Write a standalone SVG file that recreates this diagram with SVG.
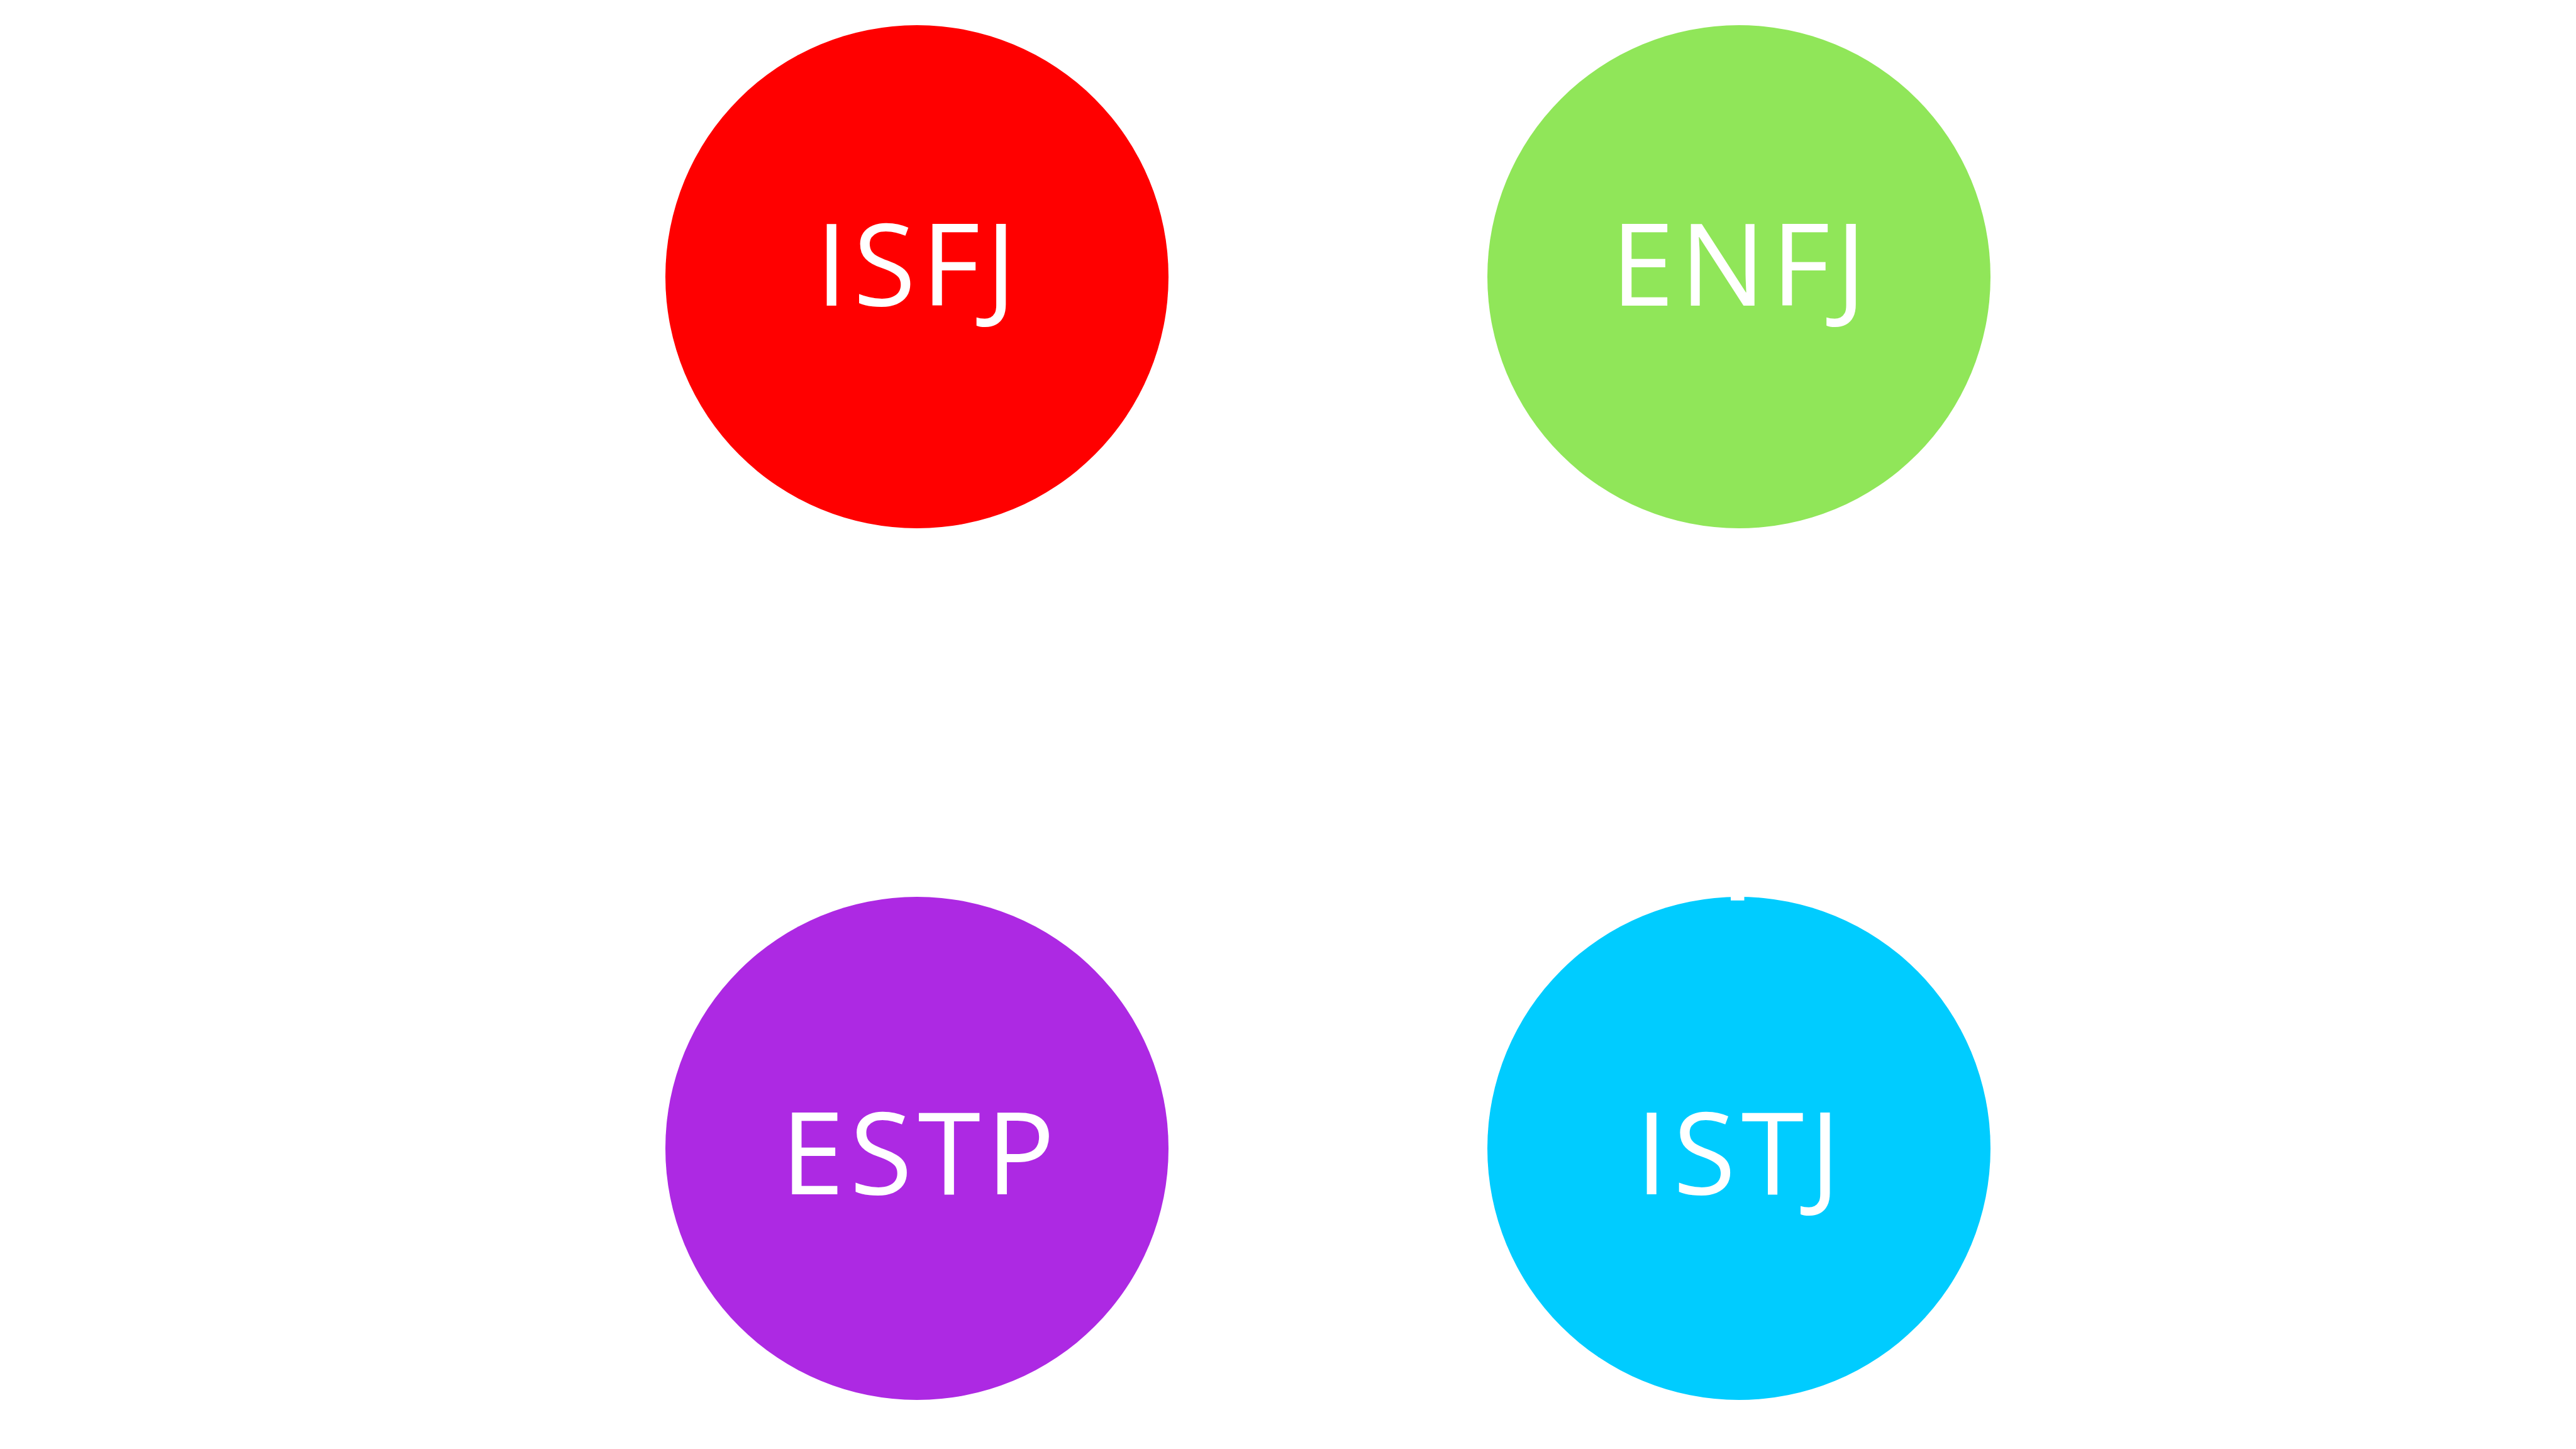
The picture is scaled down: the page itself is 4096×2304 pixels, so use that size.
<svg xmlns="http://www.w3.org/2000/svg" width="4096" height="2304" viewBox="0 0 4096 2304">
<style>
.lbl{font-family:"Open Sans","Liberation Sans",sans-serif;font-size:181px;fill:#ffffff;text-anchor:middle;letter-spacing:9px}
</style>
<rect x="0" y="0" width="4096" height="2304" fill="#ffffff"/>
<g id="connectors"></g>
<g id="node-isfj">
<circle cx="1458" cy="440" r="400" fill="#ff0000"/>
<text class="lbl" x="1461" y="486">ISFJ</text>
</g>
<g id="node-enfj">
<circle cx="2765" cy="440" r="400" fill="#90e659"/>
<text class="lbl" x="2769" y="486">ENFJ</text>
</g>
<g id="node-estp">
<circle cx="1458" cy="1826" r="400" fill="#ad29e3"/>
<text class="lbl" x="1464" y="1899">ESTP</text>
</g>
<g id="node-istj">
<circle cx="2765" cy="1826" r="400" fill="#00ccff"/>
<rect x="2752" y="1420" width="21.5" height="11.8" fill="#ffffff"/>
<text class="lbl" x="2768" y="1899">ISTJ</text>
</g>
</svg>
